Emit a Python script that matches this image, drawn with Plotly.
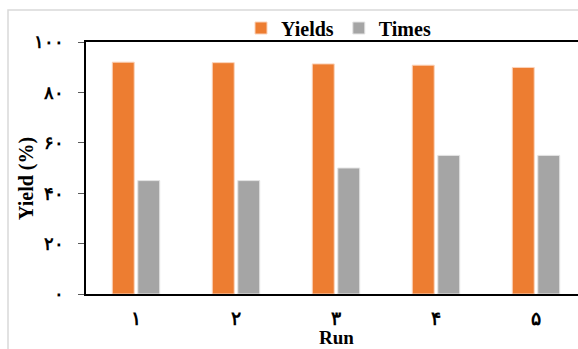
import plotly.graph_objects as go

runs = ["١", "٢", "٣", "۴", "۵"]
yields = [92, 91.8, 91.3, 90.8, 89.9]
times = [45, 45, 50, 55, 55]
ytick_vals = [0, 20, 40, 60, 80, 100]
ytick_text = ["٠", "٢٠", "۴٠", "۶٠", "٨٠", "١٠٠"]
x_title = "Run"
y_title = "Yield (%)"

W, H = 578, 349
L, R, T, B = 86, 0, 42, 55
pw, ph = W - L - R, H - T - B

fig = go.Figure()
fig.add_bar(x=list(range(len(runs))), y=yields, name="Yields",
            marker=dict(color="#ED7D31", line=dict(color="#FBD3BA", width=1)))
fig.add_bar(x=list(range(len(runs))), y=times, name="Times",
            marker=dict(color="#A5A5A5", line=dict(color="#E4E4E4", width=1)))

font_fam = "Liberation Serif, 'Times New Roman', DejaVu Serif, serif"

fig.update_layout(
    width=W, height=H,
    margin=dict(l=L, r=R, t=T, b=B),
    paper_bgcolor="white", plot_bgcolor="white",
    barmode="group", bargap=0.49, bargroupgap=0.14,
    font=dict(family=font_fam, color="black"),
    legend=dict(orientation="h", x=(241 - L) / pw, xanchor="left", y=(294 - 28) / ph,
                yanchor="middle", font=dict(size=20, weight="bold"),
                bgcolor="rgba(0,0,0,0)",
                itemwidth=30, traceorder="normal"),
    showlegend=True,
)
fig.update_xaxes(
    tickvals=list(range(len(runs))), ticktext=runs,
    range=[-0.5, -0.5 + pw / 100.0],
    showline=True, linecolor="black", linewidth=2, mirror=True,
    ticks="", showgrid=False, zeroline=False,
    tickfont=dict(size=19, weight="bold"),
    ticklabelstandoff=6,
    automargin=False,
)
fig.update_yaxes(
    range=[0, 100], tickvals=ytick_vals, ticktext=ytick_text,
    showline=True, linecolor="black", linewidth=2, mirror=True,
    ticks="outside", ticklen=6, tickcolor="#595959", tickwidth=1,
    showgrid=False, zeroline=False,
    tickfont=dict(size=18, weight="bold"),
    ticklabelstandoff=10,
    automargin=False,
)
fig.add_annotation(text=x_title, xref="paper", yref="paper",
                   x=(336 - L) / pw, y=(294 - 337) / ph, xanchor="center", yanchor="middle",
                   showarrow=False, font=dict(size=19, weight="bold"))
fig.add_annotation(text=y_title, xref="paper", yref="paper",
                   x=(26 - L) / pw, y=(294 - 179) / ph, xanchor="center", yanchor="middle",
                   textangle=-90, showarrow=False, font=dict(size=20, weight="bold"))
# outer chart frame
fig.add_shape(type="rect", xref="paper", yref="paper",
              x0=(8 - L) / pw, x1=(W + 20 - L) / pw,
              y0=(294 - (H + 20)) / ph, y1=(294 - 10) / ph,
              line=dict(color="#D9D9D9", width=1.5), layer="below")

fig.write_html("out.html")
